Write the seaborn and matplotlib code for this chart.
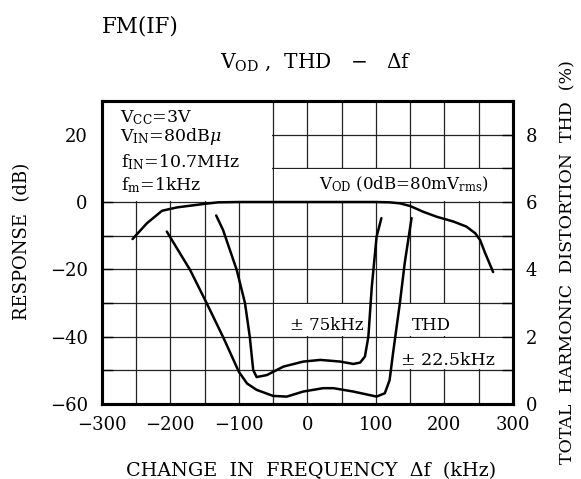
import matplotlib
matplotlib.use("Agg")
import matplotlib.pyplot as plt
from matplotlib.patches import Rectangle
import numpy as np
import pandas as pd
import seaborn as sns

# ---- data ----
vod_khz = [-255, -234, -212, -190, -152, -130, -100, 0, 100, 120, 135, 150, 169, 189, 213, 232, 245, 252, 259, 271]
vod_db = [-11.0, -6.3, -2.6, -1.6, -0.6, -0.1, 0.0, 0.0, 0.0, -0.1, -0.4, -1.2, -2.9, -4.4, -5.8, -7.3, -9.3, -11.3, -15.0, -20.8]

thd75_khz = [-133, -123, -103, -91, -84, -79, -74, -59, -35, -6, 19, 48, 67, 77, 84, 89, 94, 101, 108]
thd75_pct = [5.6, 5.17, 3.98, 3.0, 2.0, 1.01, 0.8, 0.86, 1.11, 1.26, 1.31, 1.26, 1.19, 1.23, 1.41, 2.0, 3.48, 4.97, 5.52]

thd225_khz = [-205, -171, -147, -122, -100, -88, -74, -50, -30, -6, 23, 38, 67, 101, 113, 120, 125, 135, 142, 152]
thd225_pct = [5.12, 3.98, 3.0, 1.95, 0.96, 0.61, 0.42, 0.24, 0.22, 0.37, 0.47, 0.47, 0.37, 0.22, 0.32, 0.71, 1.51, 3.0, 4.18, 5.52]

x_ticks = [-300, -200, -100, 0, 100, 200, 300]
y_ticks_db = [-60, -40, -20, 0, 20]
y_ticks_pct = [0, 2, 4, 6, 8]

sns.set_theme(style="white")
plt.rcParams["font.family"] = ["DejaVu Serif"]
plt.rcParams["mathtext.fontset"] = "dejavuserif"
plt.rcParams["axes.unicode_minus"] = True
plt.rcParams["text.color"] = "black"
plt.rcParams["axes.labelcolor"] = "black"
plt.rcParams["xtick.color"] = "black"
plt.rcParams["ytick.color"] = "black"

W, H = 581, 479
fig = plt.figure(figsize=(W / 100, H / 100), dpi=100)
fig.patch.set_facecolor("white")
L, R, T, B = 101.7, 513.0, 101.0, 404.0
ax = fig.add_axes([L / W, (H - B) / H, (R - L) / W, (B - T) / H])
ax.set_xlim(-300, 300)
ax.set_ylim(-60, 30)
ax.set_facecolor("white")

# grid (every 50 kHz / 10 dB)
for gx in np.arange(-250, 300, 50):
    ax.axvline(gx, color="#222222", lw=0.9, zorder=0.5)
for gy in np.arange(-50, 30, 10):
    ax.axhline(gy, color="#222222", lw=0.9, zorder=0.5)

# white label areas hiding the grid
dx, dy = 1.2, 0.25
for (x0, x1, y0, y1) in [(-300, -50, 0, 30), (-50, 300, 0, 10), (-50, 100, -40, -30),
                         (100, 250, -40, -30), (100, 300, -50, -40)]:
    ax.add_patch(Rectangle((x0 + dx, y0 + dy), x1 - x0 - 2 * dx, y1 - y0 - 2 * dy,
                           facecolor="white", edgecolor="none", zorder=1))

vod = pd.DataFrame({"khz": vod_khz, "db": vod_db})
sns.lineplot(data=vod, x="khz", y="db", ax=ax, color="black", lw=1.8,
             sort=False, estimator=None, zorder=3)

ax.set_xticks(x_ticks)
ax.set_yticks(y_ticks_db)
ax.set_yticks(np.arange(-50, 30, 20), minor=True)
ax.tick_params(axis="x", which="both", length=0, pad=9, labelsize=13, colors="black")
ax.tick_params(axis="y", which="both", direction="in", length=8, width=1, pad=10,
               labelsize=13, colors="black", left=True, right=False)
for s in ax.spines.values():
    s.set_linewidth(2.2)
    s.set_color("black")
ax.set_xlabel("")
ax.set_ylabel("")

ax2 = ax.twinx()
ax2.set_ylim(0, 9)
t75 = pd.DataFrame({"khz": thd75_khz, "pct": thd75_pct})
t225 = pd.DataFrame({"khz": thd225_khz, "pct": thd225_pct})
sns.lineplot(data=t75, x="khz", y="pct", ax=ax2, color="black", lw=1.8,
             sort=False, estimator=None, zorder=3)
sns.lineplot(data=t225, x="khz", y="pct", ax=ax2, color="black", lw=1.8,
             sort=False, estimator=None, zorder=3)
ax2.set_yticks(y_ticks_pct)
ax2.set_yticks([1, 3, 5, 7], minor=True)
ax2.tick_params(axis="y", which="both", direction="in", length=8, width=1, pad=9,
                labelsize=13, colors="black", right=True, left=False)
for s in ax2.spines.values():
    s.set_linewidth(2.2)
    s.set_color("black")
ax2.set_ylabel("")
ax2.set_xlabel("")
ax2.set_xlim(-300, 300)

# annotations
ann_fs = 12.5
ax.text(-273, 23.7, r"V$_{\mathrm{CC}}$=3V", fontsize=ann_fs, color="black", zorder=4)
ax.text(-273, 18.0, r"V$_{\mathrm{IN}}$=80dB$\mu$", fontsize=ann_fs, color="black", zorder=4)
ax.text(-272, 10.4, r"f$_{\mathrm{IN}}$=10.7MHz", fontsize=ann_fs, color="black", zorder=4)
ax.text(-272, 3.6, r"f$_{\mathrm{m}}$=1kHz", fontsize=ann_fs, color="black", zorder=4)
ax.text(17, 3.9, r"V$_{\mathrm{OD}}$ (0dB=80mV$_{\mathrm{rms}}$)", fontsize=12, color="black", zorder=4)
ax.text(-25, -38.0, "± 75kHz", fontsize=12, color="black", zorder=4)
ax.text(152, -38.0, "THD", fontsize=12, color="black", zorder=4)
ax.text(137, -48.4, "± 22.5kHz", fontsize=12.5, color="black", zorder=4)

# titles and axis labels
fig.text(102 / W, 1 - 27 / H, "FM(IF)", fontsize=15.5, va="center", ha="left", color="black")
fig.text(316 / W, 1 - 62 / H, r"V$_{\mathrm{OD}}$ ,  THD   −   Δf", fontsize=14.5,
         va="center", ha="center", color="black")
fig.text(22 / W, 1 - 241 / H, "RESPONSE  (dB)", fontsize=13, rotation=90, va="center",
         ha="center", color="black")
fig.text(568 / W, 1 - 262 / H, "TOTAL  HARMONIC  DISTORTION  THD  (%)", fontsize=12.5,
         rotation=90, va="center", ha="center", color="black")
fig.text(311 / W, 1 - 471 / H, "CHANGE  IN  FREQUENCY  Δf  (kHz)", fontsize=13.8,
         va="center", ha="center", color="black")

fig.savefig("out.png", dpi=100, facecolor="white")
